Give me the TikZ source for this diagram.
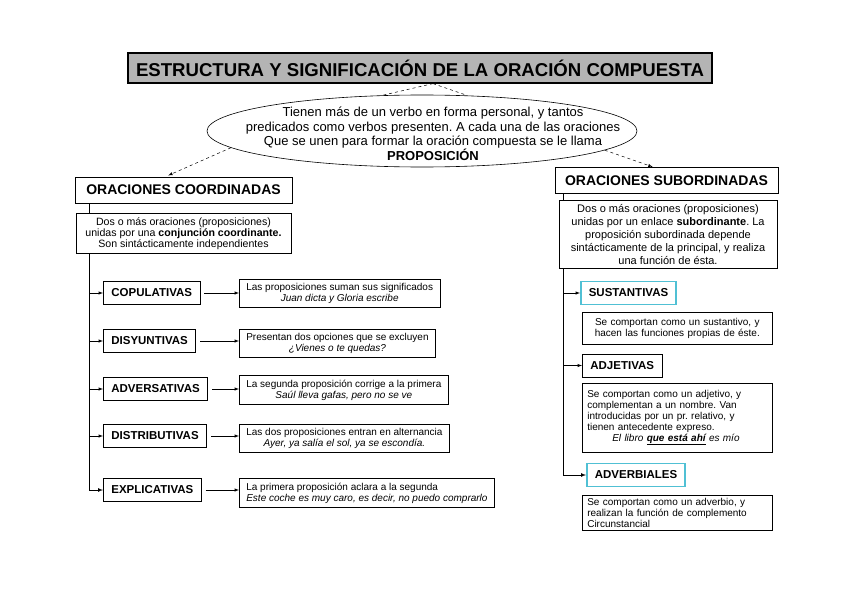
\documentclass[tikz,border=0pt]{standalone}
\usepackage{fontspec}
\setmainfont{Liberation Sans}
\usepackage{xcolor}
\usepackage{tikz}
\usetikzlibrary{shapes.geometric, arrows, positioning, calc}
\definecolor{grisfondo}{RGB}{180, 180, 180}
\definecolor{cian}{RGB}{80, 192, 212}
\frenchspacing

\begin{document}
\begin{tikzpicture}[
    x=1pt, y=-1pt,
    every node/.style={font=\fontsize{10}{11}\selectfont},
    titulo/.style={rectangle, draw, line width=1.2pt, fill=grisfondo,
                   minimum width=584pt, minimum height=30pt,
                   font=\fontsize{18.6}{20}\selectfont\bfseries},
    elipse/.style={ellipse, draw, line width=0.6pt, minimum width=430pt,
                   minimum height=72pt, inner sep=0pt},
    grupo/.style={rectangle, draw, line width=0.7pt, fill=white, minimum height=26pt,
                  font=\fontsize{14}{16}\selectfont\bfseries},
    desc/.style={rectangle, draw, line width=0.6pt, fill=white, align=center,
                 inner xsep=7pt, inner ysep=4pt},
    tipo/.style={rectangle, draw, line width=0.7pt, fill=white, minimum height=23pt,
                 inner xsep=8pt, anchor=west, font=\fontsize{11.5}{13}\selectfont\bfseries},
    clase/.style={tipo, draw=cian, line width=1.6pt},
    nota/.style={desc, anchor=west, text width=180pt, align=left, inner xsep=5pt,
                 inner ysep=3pt},
    flecha/.style={-latex, line width=0.5pt},
    puntos/.style={dashed, line width=0.5pt}
]
\path[use as bounding box, fill=white] (0,0) rectangle (848,599);

% Titulo y definicion
\node[titulo] (tit) at (420,68) {ESTRUCTURA Y SIGNIFICACIÓN DE LA ORACIÓN COMPUESTA};
\node[elipse] (def) at (422,131) {};
\node[align=center, font=\fontsize{13}{14.5}\selectfont] (deftxt) at (433,134)
  {Tienen más de un verbo en forma personal, y tantos\\
   predicados como verbos presenten. A cada una de las oraciones\\
   Que se unen para formar la oración compuesta se le llama\\
   \textbf{PROPOSICIÓN}};

% Coordinadas
\node[grupo, minimum width=217pt] (coord) at (183.5,190) {ORACIONES COORDINADAS};
\node[desc, below=10pt of coord, minimum width=215pt, font=\fontsize{10.6}{11}\selectfont] (dcoord)
  {Dos o más oraciones (proposiciones)\\
   unidas por una \textbf{conjunción coordinante.}\\
   Son sintácticamente independientes};
\coordinate (tronco1) at ([xshift=15pt]coord.south west);

\node[tipo] (cop)   at (103,293) {COPULATIVAS};
\node[tipo] (dis)   at (103,341) {DISYUNTIVAS};
\node[tipo] (adver) at (103,389) {ADVERSATIVAS};
\node[tipo] (distr) at (103,436) {DISTRIBUTIVAS};
\node[tipo] (expl)  at (103,490) {EXPLICATIVAS};

\node[desc, anchor=west] (dcop) at (239,293.5)
  {Las proposiciones suman sus significados\\ \textit{Juan dicta y Gloria escribe}};
\node[desc, anchor=west] (ddis) at (239,343)
  {Presentan dos opciones que se excluyen\\ \textit{¿Vienes o te quedas?}};
\node[desc, anchor=west] (dadver) at (239,390)
  {La segunda proposición corrige a la primera\\ \textit{Saúl lleva gafas, pero no se ve}};
\node[desc, anchor=west] (ddistr) at (239,438)
  {Las dos proposiciones entran en alternancia\\ \textit{Ayer, ya salía el sol, ya se escondía.}};
\node[desc, anchor=west, align=left] (dexpl) at (239,493)
  {La primera proposición aclara a la segunda\\ \textit{Este coche es muy caro, es decir, no puedo comprarlo}};

% Subordinadas
\node[grupo, minimum width=223pt] (sub) at (666.5,180.5) {ORACIONES SUBORDINADAS};
\node[desc, minimum width=218pt, font=\fontsize{11}{13}\selectfont] (dsub) at (668,234.5)
  {Dos o más oraciones (proposiciones)\\
   unidas por un enlace \textbf{subordinante}. La\\
   proposición subordinada depende\\
   sintácticamente de la principal, y realiza\\
   una función de ésta.};
\coordinate (tronco2) at ([xshift=9pt]sub.south west);

\node[clase] (sust)   at (580,293)   {SUSTANTIVAS};
\node[tipo]  (adj)    at (582,365.5) {ADJETIVAS};
\node[clase] (adverb) at (586,475)   {ADVERBIALES};

\node[nota, align=center, minimum height=32pt] (dsust) at (582,328)
  {Se comportan como un sustantivo, y\\ hacen las funciones propias de éste.};
\node[nota, minimum height=69pt] (dadj) at (582,417.5)
  {Se comportan como un adjetivo, y\\
   complementan a un nombre. Van\\
   introducidas por un pr. relativo, y\\
   tienen antecedente expreso.\\
   \hspace*{25pt}\textit{El libro \textbf{\underline{que está ahí}} es mío}};
\node[nota] (dadv) at (582,512.5)
  {Se comportan como un adverbio, y\\
   realizan la función de complemento\\
   Circunstancial};

% Llamada y flechas punteadas
\draw[puntos] ([xshift=13pt]tit.south) -- (def.138);
\draw[puntos] ([xshift=13pt]tit.south) -- (def.38);
\draw[puntos, -latex, shorten >=3pt] (def.185) -- ([xshift=-18pt]coord.north);
\draw[puntos, -latex, shorten >=1pt] (def.-6) -- ([xshift=-13pt]sub.north);

% Troncos
\draw[line width=0.7pt] (tronco1) -- (tronco1 |- dcoord.north);
\draw[flecha, line width=0.7pt] (tronco1 |- dcoord.south) |- (expl.west);
\foreach \n in {cop, dis, adver, distr}
  \draw[flecha] (tronco1 |- \n.west) -- (\n.west);
\foreach \n/\d in {cop/dcop, dis/ddis, adver/dadver, distr/ddistr, expl/dexpl}
  \draw[flecha, shorten <=4pt] (\n.east) -- (\n.east -| \d.west);

\draw[line width=0.7pt] (tronco2) -- (tronco2 |- dsub.north);
\draw[flecha, line width=0.7pt] (tronco2 |- dsub.south) |- (adverb.west);
\foreach \n in {sust, adj}
  \draw[flecha] (tronco2 |- \n.west) -- (\n.west);

\end{tikzpicture}
\end{document}
